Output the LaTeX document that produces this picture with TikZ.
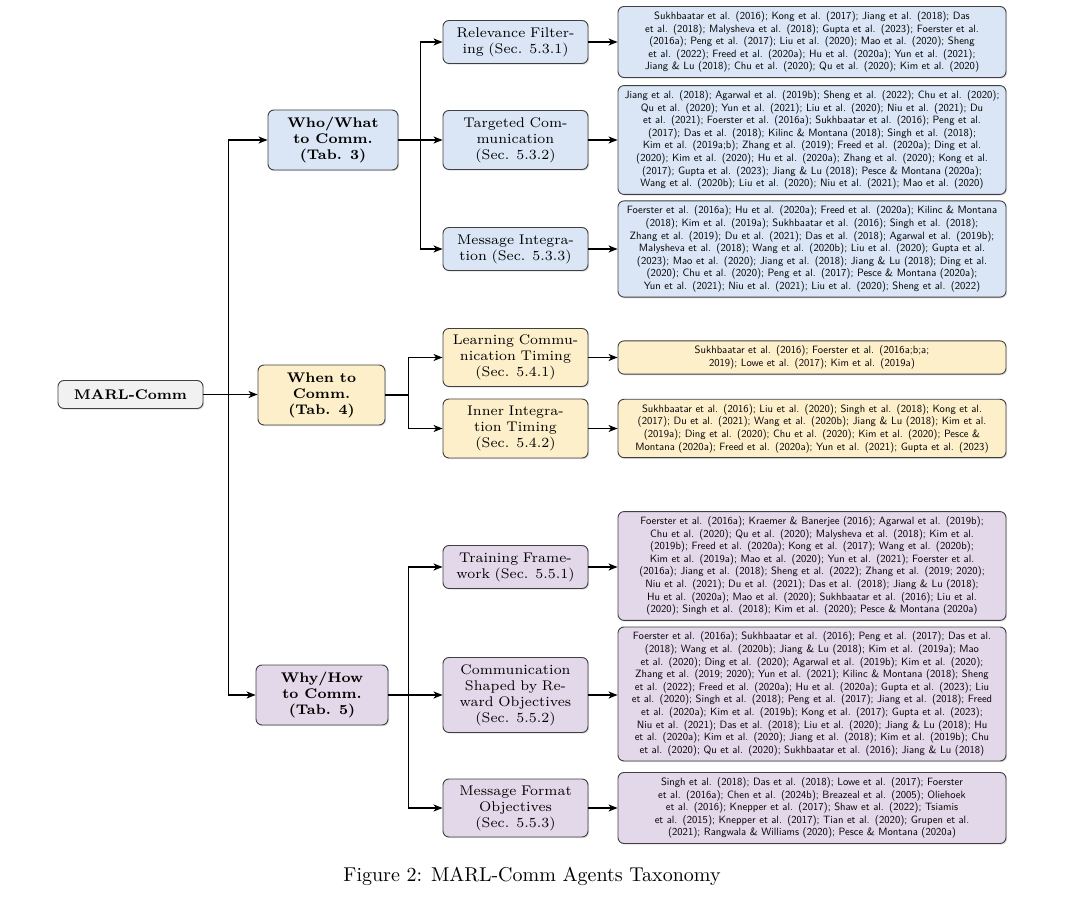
\documentclass[tikz,border=0pt]{standalone}
\usepackage{fontspec}
\newfontfamily\rmseven{lmroman7-regular.otf}[BoldFont=lmroman7-bold.otf]
\newfontfamily\rmten{lmroman10-regular.otf}
\usetikzlibrary{arrows.meta,shadows}
\definecolor{bluef}{HTML}{DAE6F6}
\definecolor{yelf}{HTML}{FCEFCA}
\definecolor{purf}{HTML}{E3D8E9}
\definecolor{grayf}{HTML}{F1F1F1}
\definecolor{edgec}{HTML}{404040}
\tikzset{
  box/.style={draw=edgec, rounded corners=6pt, line width=0.9pt, align=center,
    drop shadow={shadow xshift=1.2pt,shadow yshift=-1.2pt,opacity=0.25}},
  topbox/.style={box, font=\rmseven\fontsize{14}{16}\selectfont\bfseries, inner sep=2pt},
  midbox/.style={box, font=\rmseven\fontsize{14}{16}\selectfont, minimum width=145pt, text width=141pt, inner xsep=2pt, inner ysep=2pt},
  leafbox/.style={box, font=\sffamily\fontsize{10.6}{12.6}\selectfont, text width=380pt, inner xsep=4pt, inner ysep=5pt},
  arr/.style={-{Stealth[length=9pt,width=7pt,inset=2.5pt]}, line width=1.2pt, black},
}
\begin{document}
\begin{tikzpicture}[x=1pt,y=-1pt]
\useasboundingbox (0,0) rectangle (1080,901);
% root and level 1
\node[box, fill=grayf, font=\rmseven\fontsize{14}{16}\selectfont\bfseries, minimum width=145pt, minimum height=28pt] (root) at (130.5,394.5) {MARL-Comm};
\node[topbox, fill=bluef, minimum width=130pt, minimum height=60pt] (who) at (333,140) {Who/What\\to Comm.\\(Tab. 3)};
\node[topbox, fill=yelf, minimum width=127pt, minimum height=60pt] (when) at (321.5,395) {When to\\Comm.\\(Tab. 4)};
\node[topbox, fill=purf, minimum width=132pt, minimum height=60pt] (why) at (322,695) {Why/How\\to Comm.\\(Tab. 5)};
% level 2
\node[midbox, fill=bluef, minimum height=43pt] (rf) at (515.5,42) {Relevance Filter-\\ing (Sec. 5.3.1)};
\node[midbox, fill=bluef, minimum height=59pt] (tc) at (515.5,140) {Targeted Com-\\munication\\(Sec. 5.3.2)};
\node[midbox, fill=bluef, minimum height=43pt] (mi) at (515.5,249) {Message Integra-\\tion (Sec. 5.3.3)};
\node[midbox, fill=yelf, minimum height=58pt] (lct) at (515.5,357.5) {Learning Commu-\\nication Timing\\(Sec. 5.4.1)};
\node[midbox, fill=yelf, minimum height=59pt] (iit) at (515.5,428.5) {Inner Integra-\\tion Timing\\(Sec. 5.4.2)};
\node[midbox, fill=purf, minimum height=43pt] (tf) at (515.5,567) {Training Frame-\\work (Sec. 5.5.1)};
\node[midbox, fill=purf, minimum height=75pt] (cs) at (515.5,695) {Communication\\Shaped by Re-\\ward Objectives\\(Sec. 5.5.2)};
\node[midbox, fill=purf, minimum height=58pt] (mf) at (515.5,808) {Message Format\\Objectives\\(Sec. 5.5.3)};
% leaves
\node[leafbox, fill=bluef] (l1) at (812,42) {Sukhbaatar et al. (2016); Kong et al. (2017); Jiang et al. (2018); Das\\
et al. (2018); Malysheva et al. (2018); Gupta et al. (2023); Foerster et al.\\
(2016a); Peng et al. (2017); Liu et al. (2020); Mao et al. (2020); Sheng\\
et al. (2022); Freed et al. (2020a); Hu et al. (2020a); Yun et al. (2021);\\
Jiang \& Lu (2018); Chu et al. (2020); Qu et al. (2020); Kim et al. (2020)};
\node[leafbox, fill=bluef] (l2) at (812,140) {Jiang et al. (2018); Agarwal et al. (2019b); Sheng et al. (2022); Chu et al. (2020);\\
Qu et al. (2020); Yun et al. (2021); Liu et al. (2020); Niu et al. (2021); Du\\
et al. (2021); Foerster et al. (2016a); Sukhbaatar et al. (2016); Peng et al.\\
(2017); Das et al. (2018); Kilinc \& Montana (2018); Singh et al. (2018);\\
Kim et al. (2019a;b); Zhang et al. (2019); Freed et al. (2020a); Ding et al.\\
(2020); Kim et al. (2020); Hu et al. (2020a); Zhang et al. (2020); Kong et al.\\
(2017); Gupta et al. (2023); Jiang \& Lu (2018); Pesce \& Montana (2020a);\\
Wang et al. (2020b); Liu et al. (2020); Niu et al. (2021); Mao et al. (2020)};
\node[leafbox, fill=bluef] (l3) at (812,249) {Foerster et al. (2016a); Hu et al. (2020a); Freed et al. (2020a); Kilinc \& Montana\\
(2018); Kim et al. (2019a); Sukhbaatar et al. (2016); Singh et al. (2018);\\
Zhang et al. (2019); Du et al. (2021); Das et al. (2018); Agarwal et al. (2019b);\\
Malysheva et al. (2018); Wang et al. (2020b); Liu et al. (2020); Gupta et al.\\
(2023); Mao et al. (2020); Jiang et al. (2018); Jiang \& Lu (2018); Ding et al.\\
(2020); Chu et al. (2020); Peng et al. (2017); Pesce \& Montana (2020a);\\
Yun et al. (2021); Niu et al. (2021); Liu et al. (2020); Sheng et al. (2022)};
\node[leafbox, fill=yelf] (l4) at (812,357.5) {Sukhbaatar et al. (2016); Foerster et al. (2016a;b;a;\\
2019); Lowe et al. (2017); Kim et al. (2019a)};
\node[leafbox, fill=yelf] (l5) at (812,428.5) {Sukhbaatar et al. (2016); Liu et al. (2020); Singh et al. (2018); Kong et al.\\
(2017); Du et al. (2021); Wang et al. (2020b); Jiang \& Lu (2018); Kim et al.\\
(2019a); Ding et al. (2020); Chu et al. (2020); Kim et al. (2020); Pesce \&\\
Montana (2020a); Freed et al. (2020a); Yun et al. (2021); Gupta et al. (2023)};
\node[leafbox, fill=purf] (l6) at (812,566) {Foerster et al. (2016a); Kraemer \& Banerjee (2016); Agarwal et al. (2019b);\\
Chu et al. (2020); Qu et al. (2020); Malysheva et al. (2018); Kim et al.\\
(2019b); Freed et al. (2020a); Kong et al. (2017); Wang et al. (2020b);\\
Kim et al. (2019a); Mao et al. (2020); Yun et al. (2021); Foerster et al.\\
(2016a); Jiang et al. (2018); Sheng et al. (2022); Zhang et al. (2019; 2020);\\
Niu et al. (2021); Du et al. (2021); Das et al. (2018); Jiang \& Lu (2018);\\
Hu et al. (2020a); Mao et al. (2020); Sukhbaatar et al. (2016); Liu et al.\\
(2020); Singh et al. (2018); Kim et al. (2020); Pesce \& Montana (2020a)};
\node[leafbox, fill=purf] (l7) at (812,694) {Foerster et al. (2016a); Sukhbaatar et al. (2016); Peng et al. (2017); Das et al.\\
(2018); Wang et al. (2020b); Jiang \& Lu (2018); Kim et al. (2019a); Mao\\
et al. (2020); Ding et al. (2020); Agarwal et al. (2019b); Kim et al. (2020);\\
Zhang et al. (2019; 2020); Yun et al. (2021); Kilinc \& Montana (2018); Sheng\\
et al. (2022); Freed et al. (2020a); Hu et al. (2020a); Gupta et al. (2023); Liu\\
et al. (2020); Singh et al. (2018); Peng et al. (2017); Jiang et al. (2018); Freed\\
et al. (2020a); Kim et al. (2019b); Kong et al. (2017); Gupta et al. (2023);\\
Niu et al. (2021); Das et al. (2018); Liu et al. (2020); Jiang \& Lu (2018); Hu\\
et al. (2020a); Kim et al. (2020); Jiang et al. (2018); Kim et al. (2019b); Chu\\
et al. (2020); Qu et al. (2020); Sukhbaatar et al. (2016); Jiang \& Lu (2018)};
\node[leafbox, fill=purf] (l8) at (812,808) {Singh et al. (2018); Das et al. (2018); Lowe et al. (2017); Foerster\\
et al. (2016a); Chen et al. (2024b); Breazeal et al. (2005); Oliehoek\\
et al. (2016); Knepper et al. (2017); Shaw et al. (2022); Tsiamis\\
et al. (2015); Knepper et al. (2017); Tian et al. (2020); Grupen et al.\\
(2021); Rangwala \& Williams (2020); Pesce \& Montana (2020a)};
% caption
\node[font=\rmten\fontsize{20}{24}\selectfont, inner sep=0pt] (cap) at (532,876) {Figure 2: MARL-Comm Agents Taxonomy};
% connectors level 0-1
\draw[arr] (root.east) -- (root.east -| when.west);
\draw[arr] (root.east) -- ++(25,0) |- (who.west);
\draw[arr] (root.east) -- ++(25,0) |- (why.west);
% level 1-2
\draw[arr] (who.east) -- ++(22,0) |- (rf.west);
\draw[arr] (who.east) -- (tc.west);
\draw[arr] (who.east) -- ++(22,0) |- (mi.west);
\draw[arr] (when.east) -- ++(23,0) |- (lct.west);
\draw[arr] (when.east) -- ++(23,0) |- (iit.west);
\draw[arr] (why.east) -- ++(20,0) |- (tf.west);
\draw[arr] (why.east) -- (cs.west);
\draw[arr] (why.east) -- ++(20,0) |- (mf.west);
% level 2-3
\draw[arr] (rf.east) -- (rf.east -| l1.west);
\draw[arr] (tc.east) -- (tc.east -| l2.west);
\draw[arr] (mi.east) -- (mi.east -| l3.west);
\draw[arr] (lct.east) -- (lct.east -| l4.west);
\draw[arr] (iit.east) -- (iit.east -| l5.west);
\draw[arr] (tf.east) -- (tf.east -| l6.west);
\draw[arr] (cs.east) -- (cs.east -| l7.west);
\draw[arr] (mf.east) -- (mf.east -| l8.west);
\end{tikzpicture}
\end{document}
